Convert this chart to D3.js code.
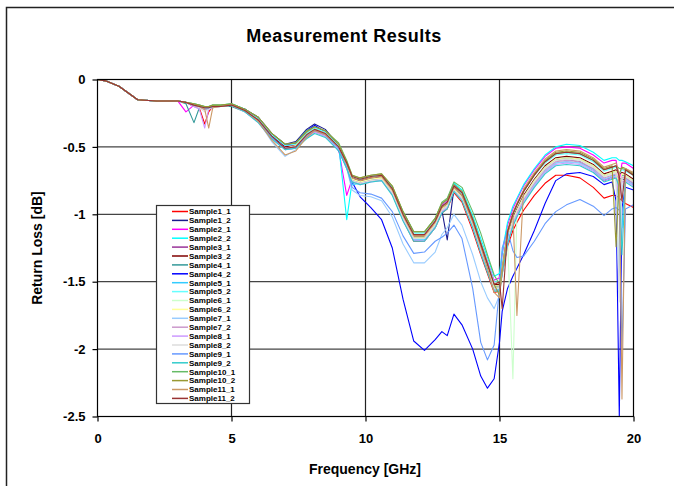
<!DOCTYPE html>
<html>
<head>
<meta charset="utf-8">
<title>Measurement Results</title>
<script src="https://cdn.jsdelivr.net/npm/d3@7"></script>
<style>
body { margin:0; background:#fff; }
text { font-family: Arial, "Liberation Sans", sans-serif; font-weight: bold; fill:#000; }
</style>
</head>
<body>
<script>
// frequency points [GHz]
var freq = [0, 0.3, 0.8, 1.5, 2.2, 3.0, 3.3, 3.6, 3.8, 4.0,
	4.15, 4.3, 4.6, 5.0, 5.5, 6.0, 6.5, 7.0, 7.4, 7.8,
	8.1, 8.5, 9.0, 9.3, 9.5, 9.8, 10.2, 10.6, 11.0, 11.4,
	11.8, 12.2, 12.6, 12.85, 13.05, 13.3, 13.6, 14.0, 14.3, 14.55,
	14.8, 15.0, 15.1, 15.3, 15.5, 15.65, 15.9, 16.3, 16.7, 17.1,
	17.5, 18.0, 18.5, 18.9, 19.2, 19.35, 19.47, 19.57, 19.7, 20.0];

// return loss [dB] per sample
var s1_1 = [0, -0.01, -0.05, -0.15, -0.16, -0.16, -0.17, -0.19, -0.21, -0.33,
	-0.24, -0.20, -0.20, -0.19, -0.23, -0.31, -0.43, -0.51, -0.50, -0.42,
	-0.38, -0.41, -0.51, -0.65, -0.75, -0.77, -0.75, -0.74, -0.85, -1.04,
	-1.20, -1.20, -1.10, -0.99, -0.96, -0.84, -0.91, -1.12, -1.30, -1.44,
	-1.58, -1.57, -1.44, -1.24, -1.12, -1.06, -0.97, -0.86, -0.77, -0.71,
	-0.71, -0.73, -0.80, -0.88, -0.86, -0.86, -0.88, -0.90, -0.92, -0.95];
var s1_2 = [0, -0.01, -0.05, -0.15, -0.16, -0.16, -0.17, -0.19, -0.20, -0.21,
	-0.21, -0.20, -0.20, -0.19, -0.22, -0.28, -0.40, -0.48, -0.46, -0.37,
	-0.33, -0.37, -0.49, -0.63, -0.73, -0.76, -0.74, -0.73, -0.83, -1.02,
	-1.17, -1.17, -1.07, -0.97, -1.19, -0.81, -0.87, -1.08, -1.26, -1.40,
	-1.54, -1.53, -1.39, -1.17, -1.04, -0.97, -0.87, -0.75, -0.65, -0.60,
	-0.59, -0.61, -0.67, -0.75, -0.73, -0.72, -0.73, -0.74, -0.74, -0.78];
var s2_1 = [0, -0.01, -0.05, -0.15, -0.16, -0.16, -0.24, -0.19, -0.20, -0.21,
	-0.21, -0.20, -0.20, -0.19, -0.23, -0.30, -0.42, -0.50, -0.49, -0.42,
	-0.38, -0.41, -0.52, -0.86, -0.74, -0.75, -0.73, -0.72, -0.82, -1.00,
	-1.15, -1.15, -1.05, -0.93, -0.90, -0.78, -0.84, -1.03, -1.21, -1.35,
	-1.49, -1.47, -1.30, -1.08, -0.96, -0.89, -0.79, -0.67, -0.57, -0.51,
	-0.50, -0.51, -0.56, -0.62, -0.60, -0.60, -0.75, -0.62, -0.62, -0.66];
var s2_2 = [0, -0.01, -0.05, -0.15, -0.16, -0.16, -0.17, -0.18, -0.19, -0.20,
	-0.20, -0.19, -0.19, -0.18, -0.22, -0.29, -0.41, -0.49, -0.48, -0.40,
	-0.36, -0.39, -0.49, -1.04, -0.76, -0.74, -0.72, -0.71, -0.80, -0.98,
	-1.13, -1.13, -1.03, -0.92, -0.89, -0.77, -0.82, -1.01, -1.18, -1.32,
	-1.46, -1.44, -1.28, -1.06, -0.94, -0.88, -0.78, -0.66, -0.56, -0.50,
	-0.48, -0.49, -0.54, -0.60, -0.58, -0.58, -0.60, -0.60, -0.61, -0.64];
var s3_1 = [0, -0.01, -0.05, -0.15, -0.16, -0.16, -0.17, -0.20, -0.21, -0.22,
	-0.22, -0.20, -0.20, -0.19, -0.23, -0.30, -0.43, -0.51, -0.50, -0.42,
	-0.38, -0.41, -0.51, -0.64, -0.74, -0.76, -0.74, -0.73, -0.83, -1.02,
	-1.17, -1.17, -1.07, -0.96, -0.93, -0.81, -0.87, -1.07, -1.26, -1.40,
	-1.54, -1.54, -1.40, -1.18, -1.05, -0.98, -0.88, -0.76, -0.66, -0.60,
	-0.59, -0.61, -0.67, -0.75, -0.72, -0.71, -0.76, -0.73, -0.73, -0.77];
var s3_2 = [0, -0.01, -0.05, -0.15, -0.16, -0.16, -0.17, -0.19, -0.20, -0.21,
	-0.21, -0.20, -0.20, -0.19, -0.23, -0.30, -0.42, -0.50, -0.49, -0.41,
	-0.37, -0.40, -0.50, -0.63, -0.73, -0.75, -0.73, -0.72, -0.82, -1.01,
	-1.16, -1.16, -1.06, -0.95, -0.92, -0.80, -0.86, -1.06, -1.24, -1.38,
	-1.52, -1.52, -1.38, -1.16, -1.03, -0.96, -0.86, -0.74, -0.64, -0.58,
	-0.57, -0.58, -0.63, -0.70, -0.68, -0.67, -0.70, -0.69, -0.70, -0.74];
var s4_1 = [0, -0.01, -0.05, -0.15, -0.16, -0.16, -0.18, -0.32, -0.21, -0.21,
	-0.21, -0.20, -0.20, -0.20, -0.24, -0.31, -0.43, -0.51, -0.50, -0.42,
	-0.38, -0.41, -0.51, -0.64, -0.74, -0.76, -0.74, -0.73, -0.83, -1.02,
	-1.17, -1.17, -1.07, -0.96, -0.93, -0.81, -0.87, -1.07, -1.25, -1.39,
	-1.53, -1.53, -1.39, -1.17, -1.04, -0.97, -0.87, -0.75, -0.65, -0.59,
	-0.58, -0.59, -0.64, -0.71, -0.69, -0.68, -0.82, -0.71, -0.71, -0.75];
var s4_2 = [0, -0.01, -0.05, -0.15, -0.16, -0.16, -0.17, -0.19, -0.20, -0.21,
	-0.21, -0.20, -0.20, -0.19, -0.22, -0.29, -0.41, -0.49, -0.47, -0.38,
	-0.34, -0.39, -0.53, -0.64, -0.76, -0.87, -0.95, -1.04, -1.25, -1.63,
	-1.94, -2.01, -1.93, -1.87, -1.90, -1.74, -1.82, -2.00, -2.20, -2.29,
	-2.22, -1.95, -1.72, -1.55, -1.46, -1.40, -1.30, -1.12, -0.92, -0.75,
	-0.70, -0.69, -0.72, -0.78, -0.76, -0.90, -2.50, -0.95, -0.80, -0.82];
var s5_1 = [0, -0.01, -0.05, -0.15, -0.16, -0.16, -0.17, -0.19, -0.20, -0.21,
	-0.21, -0.20, -0.20, -0.18, -0.22, -0.31, -0.43, -0.52, -0.51, -0.43,
	-0.39, -0.42, -0.52, -0.66, -0.78, -0.77, -0.75, -0.74, -0.84, -1.04,
	-1.19, -1.19, -1.09, -0.98, -0.95, -0.82, -0.88, -1.09, -1.28, -1.42,
	-1.56, -1.56, -1.42, -1.20, -1.07, -1.00, -0.90, -0.78, -0.68, -0.62,
	-0.61, -0.62, -0.67, -0.74, -0.72, -0.71, -0.95, -1.10, -0.74, -0.78];
var s5_2 = [0, -0.01, -0.05, -0.15, -0.16, -0.16, -0.17, -0.19, -0.20, -0.20,
	-0.20, -0.20, -0.20, -0.19, -0.23, -0.29, -0.41, -0.49, -0.48, -0.40,
	-0.36, -0.39, -0.49, -0.62, -0.72, -0.74, -0.72, -0.71, -0.81, -0.99,
	-1.14, -1.14, -1.04, -0.94, -0.91, -0.79, -0.85, -1.04, -1.22, -1.36,
	-1.50, -1.50, -1.36, -1.13, -1.00, -0.93, -0.83, -0.71, -0.62, -0.56,
	-0.55, -0.56, -0.61, -0.68, -0.66, -0.65, -0.70, -0.67, -0.68, -0.71];
var s6_1 = [0, -0.01, -0.05, -0.15, -0.16, -0.16, -0.17, -0.19, -0.20, -0.21,
	-0.21, -0.20, -0.20, -0.19, -0.24, -0.31, -0.43, -0.51, -0.50, -0.42,
	-0.38, -0.41, -0.51, -0.64, -0.74, -0.76, -0.74, -0.73, -0.84, -1.03,
	-1.18, -1.18, -1.08, -0.97, -0.94, -0.81, -0.88, -1.08, -1.26, -1.40,
	-1.54, -1.54, -1.40, -1.18, -2.22, -0.99, -0.88, -0.76, -0.66, -0.60,
	-0.59, -0.60, -0.65, -0.72, -0.70, -0.69, -1.55, -0.74, -0.72, -0.76];
var s6_2 = [0, -0.01, -0.05, -0.15, -0.16, -0.16, -0.17, -0.19, -0.20, -0.21,
	-0.21, -0.20, -0.20, -0.19, -0.23, -0.30, -0.43, -0.51, -0.49, -0.41,
	-0.37, -0.40, -0.51, -0.64, -0.74, -0.76, -0.74, -0.73, -0.83, -1.02,
	-1.17, -1.17, -1.07, -0.96, -0.93, -0.81, -0.87, -1.07, -1.25, -1.40,
	-1.53, -1.53, -1.39, -1.17, -1.04, -0.97, -0.87, -0.75, -0.65, -0.59,
	-0.58, -0.59, -0.64, -0.71, -0.69, -0.68, -0.80, -0.70, -0.71, -0.75];
var s7_1 = [0, -0.01, -0.05, -0.15, -0.16, -0.16, -0.17, -0.19, -0.20, -0.22,
	-0.22, -0.21, -0.20, -0.19, -0.23, -0.31, -0.46, -0.57, -0.52, -0.43,
	-0.39, -0.42, -0.52, -0.66, -0.82, -0.86, -0.87, -0.90, -1.02, -1.22,
	-1.36, -1.36, -1.28, -1.15, -1.10, -1.00, -1.08, -1.30, -1.50, -1.62,
	-1.70, -1.60, -1.45, -1.22, -1.08, -1.00, -0.90, -0.78, -0.68, -0.62,
	-0.61, -0.62, -0.67, -0.74, -0.72, -0.72, -1.62, -0.80, -0.74, -0.78];
var s7_2 = [0, -0.01, -0.05, -0.15, -0.16, -0.16, -0.17, -0.20, -0.21, -0.22,
	-0.21, -0.20, -0.20, -0.19, -0.24, -0.31, -0.43, -0.51, -0.50, -0.43,
	-0.39, -0.42, -0.52, -0.65, -0.75, -0.77, -0.75, -0.74, -0.84, -1.03,
	-1.18, -1.18, -1.08, -0.97, -0.94, -0.82, -0.88, -1.08, -1.27, -1.41,
	-1.55, -1.55, -1.41, -1.19, -1.06, -0.99, -0.89, -0.77, -0.67, -0.61,
	-0.60, -0.61, -0.66, -0.73, -0.71, -0.70, -0.90, -0.72, -0.73, -0.77];
var s8_1 = [0, -0.01, -0.05, -0.15, -0.16, -0.16, -0.17, -0.20, -0.22, -0.36,
	-0.22, -0.21, -0.20, -0.19, -0.24, -0.32, -0.44, -0.52, -0.51, -0.43,
	-0.39, -0.42, -0.52, -0.66, -0.76, -0.78, -0.76, -0.75, -0.85, -1.04,
	-1.19, -1.20, -1.10, -0.98, -0.95, -0.83, -0.89, -1.10, -1.28, -1.42,
	-1.56, -1.57, -1.43, -1.21, -1.08, -1.01, -0.91, -0.79, -0.69, -0.63,
	-0.62, -0.63, -0.68, -0.75, -0.73, -0.72, -0.85, -0.76, -0.75, -0.79];
var s8_2 = [0, -0.01, -0.05, -0.15, -0.16, -0.16, -0.17, -0.19, -0.21, -0.24,
	-0.22, -0.20, -0.20, -0.19, -0.23, -0.31, -0.43, -0.51, -0.50, -0.42,
	-0.38, -0.41, -0.51, -0.64, -0.75, -0.77, -0.75, -0.74, -0.84, -1.03,
	-1.18, -1.18, -1.08, -0.97, -0.94, -0.82, -0.88, -1.08, -1.26, -1.40,
	-1.55, -1.55, -1.41, -1.19, -1.05, -0.98, -0.88, -0.76, -0.66, -0.60,
	-0.59, -0.60, -0.65, -0.72, -0.70, -0.69, -1.65, -0.72, -0.72, -0.76];
var s9_1 = [0, -0.01, -0.05, -0.15, -0.16, -0.16, -0.17, -0.19, -0.20, -0.21,
	-0.21, -0.20, -0.20, -0.19, -0.23, -0.30, -0.43, -0.51, -0.50, -0.42,
	-0.38, -0.41, -0.51, -0.65, -0.80, -0.84, -0.85, -0.88, -0.98, -1.16,
	-1.29, -1.28, -1.20, -1.17, -1.14, -1.08, -1.18, -1.55, -1.95, -2.08,
	-1.97, -1.55, -1.25, -1.12, -1.27, -1.32, -1.31, -1.20, -1.07, -0.98,
	-0.93, -0.89, -0.94, -1.01, -0.96, -0.95, -0.97, -2.00, -0.96, -0.93];
var s9_2 = [0, -0.01, -0.05, -0.15, -0.16, -0.16, -0.17, -0.19, -0.20, -0.21,
	-0.21, -0.20, -0.20, -0.19, -0.24, -0.32, -0.44, -0.52, -0.51, -0.44,
	-0.40, -0.43, -0.53, -0.66, -0.76, -0.78, -0.76, -0.75, -0.86, -1.05,
	-1.20, -1.20, -1.10, -0.99, -0.96, -0.83, -0.90, -1.10, -1.29, -1.43,
	-1.57, -1.57, -1.44, -1.22, -1.09, -1.02, -0.92, -0.80, -0.70, -0.64,
	-0.63, -0.64, -0.69, -0.76, -0.74, -0.73, -0.80, -1.30, -0.76, -0.80];
var s10_1 = [0, -0.01, -0.05, -0.15, -0.16, -0.16, -0.17, -0.18, -0.19, -0.20,
	-0.20, -0.19, -0.19, -0.18, -0.22, -0.28, -0.40, -0.48, -0.47, -0.38,
	-0.35, -0.38, -0.47, -0.60, -0.71, -0.73, -0.71, -0.70, -0.79, -0.98,
	-1.13, -1.13, -1.03, -0.91, -0.88, -0.76, -0.80, -0.98, -1.14, -1.30,
	-1.45, -1.52, -1.40, -1.14, -1.00, -0.93, -0.83, -0.71, -0.61, -0.55,
	-0.54, -0.55, -0.60, -0.67, -0.65, -0.64, -0.66, -0.66, -0.67, -0.71];
var s10_2 = [0, -0.01, -0.05, -0.15, -0.16, -0.16, -0.17, -0.18, -0.19, -0.20,
	-0.20, -0.19, -0.19, -0.18, -0.22, -0.28, -0.40, -0.48, -0.47, -0.39,
	-0.35, -0.38, -0.48, -0.61, -0.71, -0.73, -0.71, -0.70, -0.79, -0.98,
	-1.13, -1.13, -1.03, -0.92, -0.89, -0.78, -0.83, -1.03, -1.21, -1.36,
	-1.52, -1.60, -1.42, -1.12, -0.99, -0.92, -0.82, -0.70, -0.60, -0.54,
	-0.53, -0.54, -0.59, -0.66, -0.64, -1.24, -0.70, -0.65, -0.66, -0.70];
var s11_1 = [0, -0.01, -0.05, -0.15, -0.16, -0.16, -0.17, -0.19, -0.20, -0.22,
	-0.36, -0.21, -0.20, -0.19, -0.23, -0.31, -0.45, -0.56, -0.53, -0.43,
	-0.38, -0.41, -0.50, -0.63, -0.73, -0.75, -0.73, -0.72, -0.82, -1.01,
	-1.16, -1.16, -1.06, -0.95, -0.92, -0.80, -0.86, -1.06, -1.24, -1.40,
	-1.58, -1.62, -1.40, -1.14, -1.00, -1.75, -0.81, -0.69, -0.59, -0.53,
	-0.52, -0.53, -0.58, -0.65, -0.63, -0.62, -0.70, -2.37, -0.66, -0.69];
var s11_2 = [0, -0.01, -0.05, -0.15, -0.16, -0.16, -0.17, -0.19, -0.20, -0.21,
	-0.21, -0.20, -0.20, -0.19, -0.23, -0.30, -0.42, -0.51, -0.50, -0.41,
	-0.37, -0.40, -0.50, -0.62, -0.72, -0.74, -0.72, -0.71, -0.81, -1.00,
	-1.15, -1.15, -1.05, -0.94, -0.91, -0.79, -0.84, -1.04, -1.22, -1.37,
	-1.52, -1.50, -1.70, -1.13, -1.00, -0.93, -0.83, -0.71, -0.61, -0.55,
	-0.54, -0.55, -0.60, -0.67, -0.65, -0.64, -0.72, -0.90, -0.67, -0.71];

var seriesNames = ["Sample1_1", "Sample1_2", "Sample2_1", "Sample2_2", "Sample3_1", "Sample3_2",
	"Sample4_1", "Sample4_2", "Sample5_1", "Sample5_2", "Sample6_1", "Sample6_2",
	"Sample7_1", "Sample7_2", "Sample8_1", "Sample8_2", "Sample9_1", "Sample9_2",
	"Sample10_1", "Sample10_2", "Sample11_1", "Sample11_2"];
var seriesValues = [s1_1, s1_2, s2_1, s2_2, s3_1, s3_2, s4_1, s4_2, s5_1, s5_2, s6_1, s6_2,
	s7_1, s7_2, s8_1, s8_2, s9_1, s9_2, s10_1, s10_2, s11_1, s11_2];
var seriesColors = ["#ff0000", "#1a1a8c", "#ff00ff", "#00ffff", "#993399", "#800000",
	"#339999", "#0000ff", "#33ccff", "#66ffff", "#ccffcc", "#ffff99",
	"#99ccff", "#cc99cc", "#cc99ff", "#dddddd", "#6699ff", "#33cccc",
	"#66bb66", "#999933", "#cc9966", "#993333"];
var xTicks = [0, 5, 10, 15, 20];
var yTicks = [0, -0.5, -1, -1.5, -2, -2.5];

var width = 674, height = 486;
var svg = d3.select("body").append("svg").attr("width", width).attr("height", height);

// outer chart frame (runs off the right and bottom edges)
svg.append("rect").attr("x", 6.5).attr("y", 7.5).attr("width", 720).attr("height", 520)
	.attr("fill", "#fff").attr("stroke", "#222").attr("stroke-width", 1.5);

var x = d3.scaleLinear().domain([0, 20]).range([97.5, 633.5]);
var y = d3.scaleLinear().domain([-2.5, 0]).range([416.5, 79.5]);

svg.append("text").attr("x", 344).attr("y", 41.5).attr("text-anchor", "middle")
	.style("font-size", "18px").style("letter-spacing", "0.5px").text("Measurement Results");

// grid
var grid = svg.append("g");
grid.selectAll(".gy").data(yTicks.slice(1, -1)).enter().append("line")
	.attr("x1", x(0)).attr("x2", x(20)).attr("y1", function(d){return y(d)}).attr("y2", function(d){return y(d)})
	.attr("stroke", "#444").attr("stroke-width", 1.2);
grid.selectAll(".gx").data(xTicks.slice(1, -1)).enter().append("line")
	.attr("y1", y(0)).attr("y2", y(-2.5)).attr("x1", function(d){return x(d)}).attr("x2", function(d){return x(d)})
	.attr("stroke", "#222").attr("stroke-width", 1.2);

// curves
svg.append("clipPath").attr("id", "plot").append("rect")
	.attr("x", x(0)).attr("y", y(0) - 1).attr("width", x(20) - x(0)).attr("height", y(-2.5) - y(0) + 1);
var line = d3.line().x(function(d){return x(d[0])}).y(function(d){return y(d[1])});
svg.append("g").attr("clip-path", "url(#plot)").selectAll("path").data(seriesValues).enter().append("path")
	.attr("d", function(vals){return line(freq.map(function(f, i){return [f, vals[i]]}))})
	.attr("fill", "none").attr("stroke-width", 1.1).attr("stroke-linejoin", "round")
	.attr("stroke", function(d, i){return seriesColors[i]});

// plot border and axes
svg.append("rect").attr("x", x(0)).attr("y", y(0)).attr("width", x(20) - x(0)).attr("height", y(-2.5) - y(0))
	.attr("fill", "none").attr("stroke", "#000").attr("stroke-width", 1.2);

var yAxis = svg.append("g").attr("transform", "translate(" + x(0) + ",0)")
	.call(d3.axisLeft(y).tickValues(yTicks).tickSize(5).tickPadding(7).tickFormat(function(d){return String(d)}));
var xAxis = svg.append("g").attr("transform", "translate(0," + y(-2.5) + ")")
	.call(d3.axisBottom(x).tickValues(xTicks).tickSize(5).tickPadding(12).tickFormat(function(d){return String(d)}));
[yAxis, xAxis].forEach(function(a){
	a.select(".domain").remove();
	a.selectAll("line").attr("stroke", "#000").attr("stroke-width", 1.2);
	a.selectAll("text").style("font-size", "13px").style("font-family", "Arial, 'Liberation Sans', sans-serif").style("font-weight", "bold").attr("fill", "#000");
});

svg.append("text").attr("x", 365).attr("y", 474).attr("text-anchor", "middle")
	.style("font-size", "14px").text("Frequency [GHz]");
svg.append("text").attr("transform", "translate(42,248) rotate(-90)").attr("text-anchor", "middle")
	.style("font-size", "14px").text("Return Loss [dB]");

// legend
var legend = svg.append("g");
legend.append("rect").attr("x", 156.5).attr("y", 205.5).attr("width", 93).attr("height", 198)
	.attr("fill", "#fff").attr("stroke", "#333").attr("stroke-width", 1.2);
var rows = legend.selectAll(".row").data(seriesNames).enter().append("g")
	.attr("transform", function(d, i){return "translate(0," + (211.5 + i * 8.9) + ")"});
rows.append("line").attr("x1", 172).attr("x2", 188)
	.attr("stroke", function(d, i){return seriesColors[i]}).attr("stroke-width", 1.5);
rows.append("text").attr("x", 189).attr("dy", "0.35em").style("font-size", "8px").text(function(d){return d});
</script>
</body>
</html>
